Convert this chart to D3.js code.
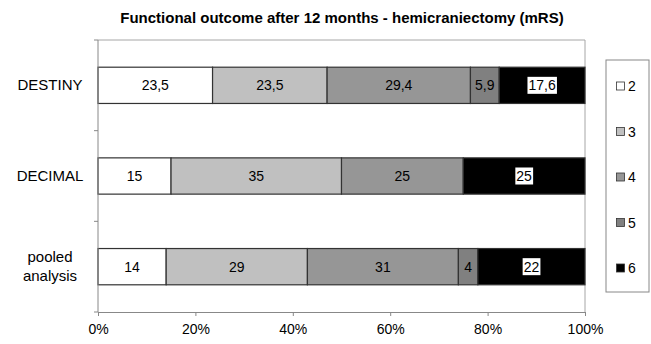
<!DOCTYPE html>
<html>
<head>
<meta charset="utf-8">
<script src="https://cdn.jsdelivr.net/npm/d3@7"></script>
<style>
  html, body { margin: 0; padding: 0; background: #fff; }
  svg { display: block; font-family: "Liberation Sans", Arial, sans-serif; }
</style>
</head>
<body>
<svg id="chart" width="651" height="344"></svg>
<script>
// Trial groups (top to bottom) and mRS outcome shares in percent
const categories = ["DESTINY", "DECIMAL", "pooled analysis"];
const mrsGrades = ["2", "3", "4", "5", "6"];
const mrs2 = [23.5, 15, 14];
const mrs3 = [23.5, 35, 29];
const mrs4 = [29.4, 25, 31];
const mrs5 = [5.9, 0, 4];
const mrs6 = [17.6, 25, 22];
const xTicks = [0, 0.2, 0.4, 0.6, 0.8, 1.0];
const title = "Functional outcome after 12 months - hemicraniectomy (mRS)";

const series = [mrs2, mrs3, mrs4, mrs5, mrs6];
const fills = ["#ffffff", "#c0c0c0", "#969696", "#808080", "#000000"];

const rows = categories.map((c, i) => {
  const r = { cat: c };
  mrsGrades.forEach((g, k) => { r[g] = series[k][i]; });
  return r;
});
const stacked = d3.stack().keys(mrsGrades).offset(d3.stackOffsetExpand)(rows);

const svg = d3.select("#chart");
const plotLeft = 98, plotRight = 585, plotTop = 40, plotBottom = 312;

const x = d3.scaleLinear().domain([0, 1]).range([plotLeft, plotRight]);
const y = d3.scaleBand().domain(categories).range([plotTop, plotBottom])
  .paddingInner(0.6).paddingOuter(0.3);

// Plot frame (top and right edges)
svg.append("path")
  .attr("d", `M${plotLeft},${plotTop}H${plotRight}V${plotBottom}`)
  .attr("fill", "none").attr("stroke", "#a6a6a6").attr("stroke-width", 1);

// Title
svg.append("text")
  .attr("x", 342).attr("y", 23)
  .attr("text-anchor", "middle")
  .attr("font-weight", "bold").attr("font-size", 15)
  .attr("fill", "#000")
  .text(title);

// Bars
const layer = svg.append("g").selectAll("g").data(stacked).join("g")
  .attr("fill", (d, i) => fills[i]);
layer.selectAll("rect").data(d => d.filter(s => s[1] - s[0] > 0)).join("rect")
  .attr("x", d => x(d[0]))
  .attr("width", d => x(d[1]) - x(d[0]))
  .attr("y", d => y(d.data.cat))
  .attr("height", y.bandwidth())
  .attr("stroke", "#333").attr("stroke-width", 1.2);

// Segment value labels
stacked.forEach((s, k) => {
  s.forEach(d => {
    const v = d.data[s.key];
    if (!(v > 0)) return;
    const cx = (x(d[0]) + x(d[1])) / 2;
    const cy = y(d.data.cat) + y.bandwidth() / 2;
    const label = String(v).replace(".", ",");
    const g = svg.append("g");
    const t = g.append("text")
      .attr("x", cx).attr("y", cy + 5)
      .attr("text-anchor", "middle")
      .attr("font-size", 14).attr("fill", "#000")
      .text(label);
    if (k === 4) {
      const bb = t.node().getBBox();
      g.insert("rect", "text")
        .attr("x", bb.x - 1).attr("y", cy - 8.5)
        .attr("width", bb.width + 2).attr("height", 17)
        .attr("fill", "#fff");
    }
  });
});

// Category axis (left)
const yBounds = [plotTop, plotTop + y.step(), plotTop + 2 * y.step(), plotBottom];
svg.append("line")
  .attr("x1", plotLeft).attr("x2", plotLeft).attr("y1", plotTop).attr("y2", plotBottom)
  .attr("stroke", "#888");
svg.selectAll(".ytick").data(yBounds).join("line")
  .attr("x1", plotLeft - 4).attr("x2", plotLeft).attr("y1", d => d).attr("y2", d => d)
  .attr("stroke", "#888");
categories.forEach(c => {
  const cy = y(c) + y.bandwidth() / 2;
  const lines = c === "pooled analysis" ? ["pooled", "analysis"] : [c];
  const t = svg.append("text")
    .attr("text-anchor", "middle")
    .attr("font-size", 15).attr("fill", "#000");
  lines.forEach((ln, i) => {
    t.append("tspan")
      .attr("x", 50)
      .attr("y", cy + 5 + (i - (lines.length - 1) / 2) * 19)
      .text(ln);
  });
});

// Value axis (bottom)
const xAxis = svg.append("g").attr("transform", `translate(0,${plotBottom})`)
  .call(d3.axisBottom(x).tickValues(xTicks).tickFormat(d3.format(".0%"))
    .tickSize(4).tickSizeOuter(0));
xAxis.select(".domain").attr("stroke", "#888");
xAxis.selectAll(".tick line").attr("stroke", "#888");
xAxis.selectAll(".tick text")
  .attr("font-family", "Liberation Sans, Arial, sans-serif")
  .attr("font-size", 14).attr("fill", "#000").attr("dy", "1.05em");

// Legend
const lg = svg.append("g");
lg.append("rect")
  .attr("x", 606).attr("y", 60).attr("width", 43).attr("height", 232)
  .attr("fill", "#fff").attr("stroke", "#888");
mrsGrades.forEach((g, i) => {
  const cy = 86 + i * 45.5;
  lg.append("rect")
    .attr("x", 616.5).attr("y", cy - 4).attr("width", 8).attr("height", 8)
    .attr("fill", fills[i]).attr("stroke", "#333").attr("stroke-width", 0.8);
  lg.append("text")
    .attr("x", 628).attr("y", cy + 5)
    .attr("font-size", 14).attr("fill", "#000")
    .text(g);
});
</script>
</body>
</html>
